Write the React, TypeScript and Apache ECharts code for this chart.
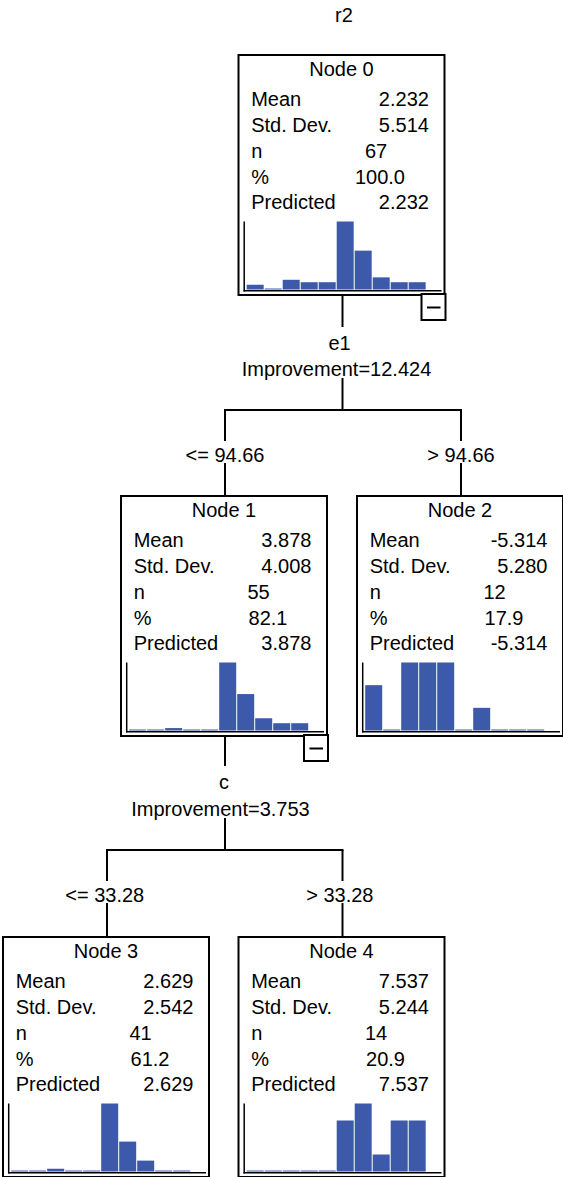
import React, { useEffect, useRef } from "react";
import * as echarts from "echarts";

// ---------- data ----------
const chartTitle = "r2";
const nodeLabels = ["Node 0", "Node 1", "Node 2", "Node 3", "Node 4"];
const statLabels = ["Mean", "Std. Dev.", "n", "%", "Predicted"];
const meanValues = [2.232, 3.878, -5.314, 2.629, 7.537];
const stdDevValues = [5.514, 4.008, 5.28, 2.542, 5.244];
const nValues = [67, 55, 12, 41, 14];
const percentValues = [100.0, 82.1, 17.9, 61.2, 20.9];
const predictedValues = [2.232, 3.878, -5.314, 2.629, 7.537];

const histBins = ["1", "2", "3", "4", "5", "6", "7", "8", "9", "10"];
const histNode0 = [2, 0, 4, 3, 3, 28, 16, 5, 3, 3];
const histNode1 = [0, 0, 1, 0, 0, 28, 15, 5, 3, 3];
const histNode2 = [2, 0, 3, 3, 3, 0, 1, 0, 0, 0];
const histNode3 = [0, 0, 1, 0, 0, 25, 11, 4, 0, 0];
const histNode4 = [0, 0, 0, 0, 0, 3, 4, 1, 3, 3];

const splitVariables = ["e1", "c"];
const splitImprovements = [12.424, 3.753];
const splitLeftLabels = ["<= 94.66", "<= 33.28"];
const splitRightLabels = ["> 94.66", "> 33.28"];

// ---------- layout ----------
const FONT = "'Liberation Sans', Arial, Helvetica, sans-serif";
const FS = 20;
const BLUE = "#3d59a9";
const NODE_W = 206;
const NODE_H = 240;
const nodePos: [number, number][] = [
  [238.5, 55],
  [121, 496],
  [357, 496],
  [3, 937],
  [238.5, 937],
];
const splitLayout = [
  { parent: 0, left: 1, right: 2, varY: 343, impY: 369, barY: 410, labelY: 455, varDx: -3, impDx: -6, lDx: 0, rDx: 0 },
  { parent: 1, left: 3, right: 4, varY: 782, impY: 809, barY: 850, labelY: 895, varDx: -1, impDx: -4.5, lDx: -2.3, rDx: -2.7 },
];
const collapsibleNodes = [0, 1];

function txt(x: number, y: number, text: string, align: string) {
  return {
    type: "text",
    x,
    y,
    silent: true,
    style: {
      text,
      font: `${FS}px ${FONT}`,
      fill: "#000",
      align,
      textAlign: align,
      verticalAlign: "middle",
      textVerticalAlign: "middle",
    },
  };
}

function line(x1: number, y1: number, x2: number, y2: number, w = 2) {
  return {
    type: "line",
    silent: true,
    shape: { x1, y1, x2, y2 },
    style: { stroke: "#000", lineWidth: w },
  };
}

function buildOption() {
  const hists = [histNode0, histNode1, histNode2, histNode3, histNode4];
  const grids: any[] = [];
  const xAxes: any[] = [];
  const yAxes: any[] = [];
  const series: any[] = [];
  const graphics: any[] = [];

  graphics.push(txt(344, 15, chartTitle, "center"));

  nodePos.forEach(([L, T], i) => {
    grids.push({ left: L + 7.7, top: T + 166.5, width: 180, height: 68 });
    xAxes.push({ type: "category", gridIndex: i, data: histBins, show: false });
    yAxes.push({ type: "value", gridIndex: i, min: 0, max: "dataMax", show: false });
    series.push({
      type: "bar",
      xAxisIndex: i,
      yAxisIndex: i,
      data: hists[i],
      barWidth: 17,
      barMinHeight: 1,
      itemStyle: { color: BLUE },
      silent: true,
    });

    graphics.push({
      type: "rect",
      silent: true,
      shape: { x: L, y: T, width: NODE_W, height: NODE_H },
      style: { fill: "none", stroke: "#000", lineWidth: 2 },
    });
    graphics.push(txt(L + 103, T + 14, nodeLabels[i], "center"));
    const rowY = [44.2, 70, 95.8, 121.6, 147.4];
    statLabels.forEach((s, r) => graphics.push(txt(L + 12.7, T + rowY[r], s, "left")));
    graphics.push(txt(L + 190.4, T + rowY[0], meanValues[i].toFixed(3), "right"));
    graphics.push(txt(L + 190.4, T + rowY[1], stdDevValues[i].toFixed(3), "right"));
    graphics.push(txt(L + 148.7, T + rowY[2], String(nValues[i]), "right"));
    graphics.push(txt(L + 166.5, T + rowY[3], percentValues[i].toFixed(1), "right"));
    graphics.push(txt(L + 190.4, T + rowY[4], predictedValues[i].toFixed(3), "right"));

    // histogram axis lines
    graphics.push(line(L + 5.7, T + 166.5, L + 5.7, T + 236.5, 1.5));
    graphics.push(line(L + 5, T + 235.8, L + 203, T + 235.8, 1.5));
  });

  collapsibleNodes.forEach((i) => {
    const [L, T] = nodePos[i];
    graphics.push({
      type: "rect",
      silent: true,
      shape: { x: L + 183, y: T + 239, width: 24, height: 26 },
      style: { fill: "#fff", stroke: "#000", lineWidth: 2 },
    });
    graphics.push(line(L + 188.5, T + 252.5, L + 202, T + 252.5, 2));
  });

  splitLayout.forEach((s, k) => {
    const [pL, pT] = nodePos[s.parent];
    const cx = pL + 104;
    const lx = nodePos[s.left][0] + 104;
    const rx = nodePos[s.right][0] + 104;
    const childTop = nodePos[s.left][1];
    graphics.push(line(cx, pT + NODE_H, cx, s.varY - 16));
    graphics.push(txt(cx + s.varDx, s.varY, splitVariables[k], "center"));
    graphics.push(txt(cx + s.impDx, s.impY, `Improvement=${splitImprovements[k].toFixed(3)}`, "center"));
    graphics.push(line(cx, s.impY + 9, cx, s.barY));
    graphics.push(line(lx - 1, s.barY, rx + 1, s.barY));
    graphics.push(line(lx, s.barY, lx, s.labelY - 14));
    graphics.push(line(rx, s.barY, rx, s.labelY - 14));
    graphics.push(txt(lx + s.lDx, s.labelY, splitLeftLabels[k], "center"));
    graphics.push(txt(rx + s.rDx, s.labelY, splitRightLabels[k], "center"));
    graphics.push(line(lx, s.labelY + 8, lx, childTop));
    graphics.push(line(rx, s.labelY + 8, rx, childTop));
  });

  return {
    animation: false,
    backgroundColor: "#fff",
    grid: grids,
    xAxis: xAxes,
    yAxis: yAxes,
    series,
    graphic: { elements: graphics },
  };
}

export default function App() {
  const ref = useRef<HTMLDivElement>(null);
  useEffect(() => {
    if (!ref.current) return;
    const chart = echarts.init(ref.current, undefined, { renderer: "svg" });
    chart.setOption(buildOption() as any);
    return () => chart.dispose();
  }, []);
  return (
    <div
      ref={ref}
      style={{ position: "absolute", left: 0, top: 0, width: 563, height: 1177 }}
    />
  );
}
